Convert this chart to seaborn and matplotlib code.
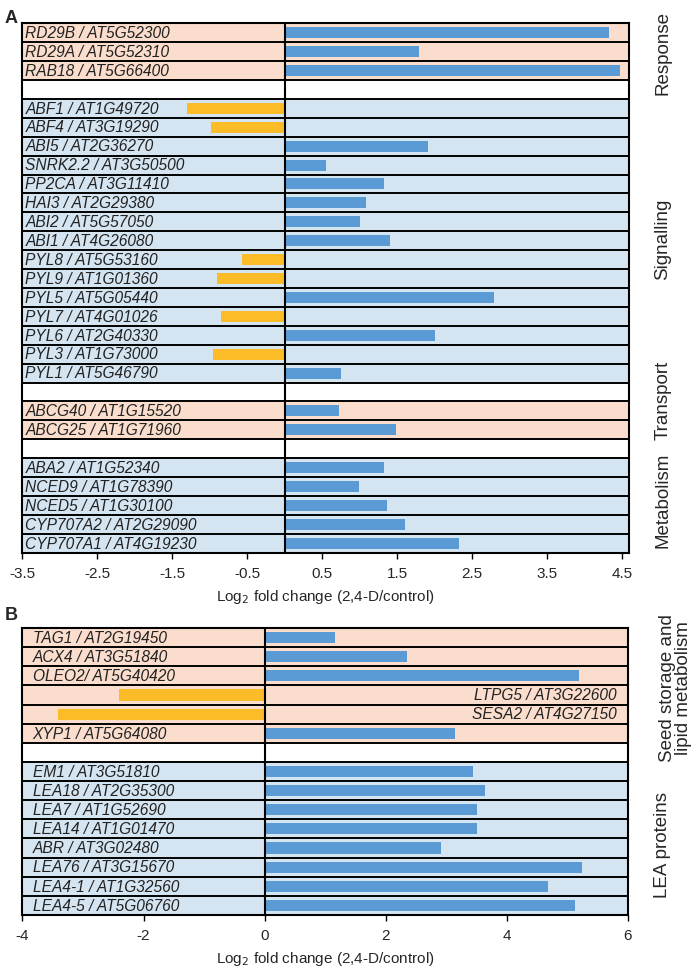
import matplotlib
matplotlib.use("Agg")
import matplotlib.pyplot as plt
import matplotlib.transforms as mtransforms
import seaborn as sns
import pandas as pd

# --- dados: painel A ---
response_genes = ["RD29B / AT5G52300", "RD29A / AT5G52310", "RAB18 / AT5G66400"]
response_vals = [4.33, 1.79, 4.48]

signalling_genes = ["ABF1 / AT1G49720", "ABF4 / AT3G19290", "ABI5 / AT2G36270",
                    "SNRK2.2 / AT3G50500", "PP2CA / AT3G11410", "HAI3 / AT2G29380",
                    "ABI2 / AT5G57050", "ABI1 / AT4G26080", "PYL8 / AT5G53160",
                    "PYL9 / AT1G01360", "PYL5 / AT5G05440", "PYL7 / AT4G01026",
                    "PYL6 / AT2G40330", "PYL3 / AT1G73000", "PYL1 / AT5G46790"]
signalling_vals = [-1.30, -0.98, 1.91, 0.55, 1.33, 1.09, 1.01, 1.40,
                   -0.57, -0.90, 2.79, -0.85, 2.01, -0.95, 0.75]

transport_genes = ["ABCG40 / AT1G15520", "ABCG25 / AT1G71960"]
transport_vals = [0.72, 1.48]

metabolism_genes = ["ABA2 / AT1G52340", "NCED9 / AT1G78390", "NCED5 / AT1G30100",
                    "CYP707A2 / AT2G29090", "CYP707A1 / AT4G19230"]
metabolism_vals = [1.32, 0.99, 1.36, 1.61, 2.33]

# --- dados: painel B ---
seed_genes = ["TAG1 / AT2G19450", "ACX4 / AT3G51840", "OLEO2/ AT5G40420",
              "LTPG5 / AT3G22600", "SESA2 / AT4G27150", "XYP1 / AT5G64080"]
seed_vals = [1.16, 2.35, 5.19, -2.41, -3.42, 3.15]

lea_genes = ["EM1 / AT3G51810", "LEA18 / AT2G35300", "LEA7 / AT1G52690",
             "LEA14 / AT1G01470", "ABR / AT3G02480", "LEA76 / AT3G15670",
             "LEA4-1 / AT1G32560", "LEA4-5 / AT5G06760"]
lea_vals = [3.45, 3.64, 3.51, 3.51, 2.92, 5.24, 4.68, 5.13]

xticks_a = [-3.5, -2.5, -1.5, -0.5, 0.5, 1.5, 2.5, 3.5, 4.5]
xticks_b = [-4, -2, 0, 2, 4, 6]

SALMON = "#FADDCC"
LIGHTBLUE = "#D4E4F1"
UP = "#5B9BD5"
DOWN = "#FBBC28"

sns.set_theme(style="white")
plt.rcParams["font.family"] = ["Liberation Sans", "DejaVu Sans"]


def build(groups):
    # groups: list of (genes, values, bg colour); blank spacer rows in between
    rows, order, bgs = [], [], []
    for k, (genes, vals, bg) in enumerate(groups):
        if k > 0:
            order.append(" " * k)
            bgs.append("white")
        for g, v in zip(genes, vals):
            rows.append({"gene": g, "lfc": v, "dir": "up" if v > 0 else "down"})
            order.append(g)
            bgs.append(bg)
    return pd.DataFrame(rows), order, bgs


def draw_panel(ax, df, order, bgs, xlim, xticks, right_labels=(), label_x=0.005):
    n = len(order)
    for i, bg in enumerate(bgs):
        ax.axhspan(i - 0.5, i + 0.5, color=bg, zorder=0, lw=0)
    sns.barplot(data=df, x="lfc", y="gene", hue="dir", order=order,
                palette={"up": UP, "down": DOWN}, width=0.58, legend=False,
                saturation=1, linewidth=0, ax=ax, zorder=2)
    for i in range(n + 1):
        ax.axhline(i - 0.5, color="black", lw=1.4, zorder=3)
    ax.axvline(0, color="black", lw=1.5, zorder=3)
    ax.set_xlim(*xlim)
    ax.set_ylim(n - 0.5, -0.5)
    ax.set_yticks([])
    ax.set_ylabel("")
    ax.set_xticks(xticks)
    ax.set_xticklabels([f"{t:g}" for t in xticks], fontsize=11)
    ax.tick_params(axis="x", bottom=True, direction="out", length=4, width=1,
                   color="black", pad=6)
    ax.set_xlabel("Log$_2$ fold change (2,4-D/control)", fontsize=11, labelpad=5)
    for s in ax.spines.values():
        s.set_color("black")
        s.set_linewidth(1.5)
        s.set_zorder(4)
    trans = mtransforms.blended_transform_factory(ax.transAxes, ax.transData)
    for i, name in enumerate(order):
        if not name.strip():
            continue
        if name in right_labels:
            ax.text(0.982, i + 0.04, name, transform=trans, ha="right", va="center",
                    fontsize=11.2, style="italic", color="#222222", zorder=5)
        else:
            ax.text(label_x, i + 0.04, name, transform=trans, ha="left", va="center",
                    fontsize=11.2, style="italic", color="#222222", zorder=5)


fig = plt.figure(figsize=(7.0, 9.68), dpi=100)

# painel A
df_a, order_a, bgs_a = build([
    (response_genes, response_vals, SALMON),
    (signalling_genes, signalling_vals, LIGHTBLUE),
    (transport_genes, transport_vals, SALMON),
    (metabolism_genes, metabolism_vals, LIGHTBLUE),
])
ax_a = fig.add_axes([0.032, 0.429, 0.867, 0.547])
draw_panel(ax_a, df_a, order_a, bgs_a, (-3.5, 4.6), xticks_a)
trans_a = mtransforms.blended_transform_factory(fig.transFigure, ax_a.transData)
for label, y in [("Response", 1.08), ("Signalling", 10.9),
                 ("Transport", 19.45), ("Metabolism", 24.75)]:
    ax_a.text(0.947, y, label, transform=trans_a, rotation=90,
              ha="center", va="center", fontsize=13.5, clip_on=False)

# painel B
df_b, order_b, bgs_b = build([
    (seed_genes, seed_vals, SALMON),
    (lea_genes, lea_vals, LIGHTBLUE),
])
ax_b = fig.add_axes([0.032, 0.0548, 0.865, 0.2964])
draw_panel(ax_b, df_b, order_b, bgs_b, (-4, 6), xticks_b,
           right_labels=("LTPG5 / AT3G22600", "SESA2 / AT4G27150"), label_x=0.017)
trans_b = mtransforms.blended_transform_factory(fig.transFigure, ax_b.transData)
ax_b.text(0.965, 2.64, "Seed storage and\nlipid metabolism", transform=trans_b,
          rotation=90, ha="center", va="center", fontsize=13.5,
          linespacing=0.95, clip_on=False)
ax_b.text(0.947, 10.86, "LEA proteins", transform=trans_b, rotation=90,
          ha="center", va="center", fontsize=13.5, clip_on=False)

fig.text(0.007, 0.99, "A", fontsize=13, fontweight="bold", va="top")
fig.text(0.007, 0.373, "B", fontsize=13, fontweight="bold", va="top")

fig.savefig("out.png", dpi=100)
